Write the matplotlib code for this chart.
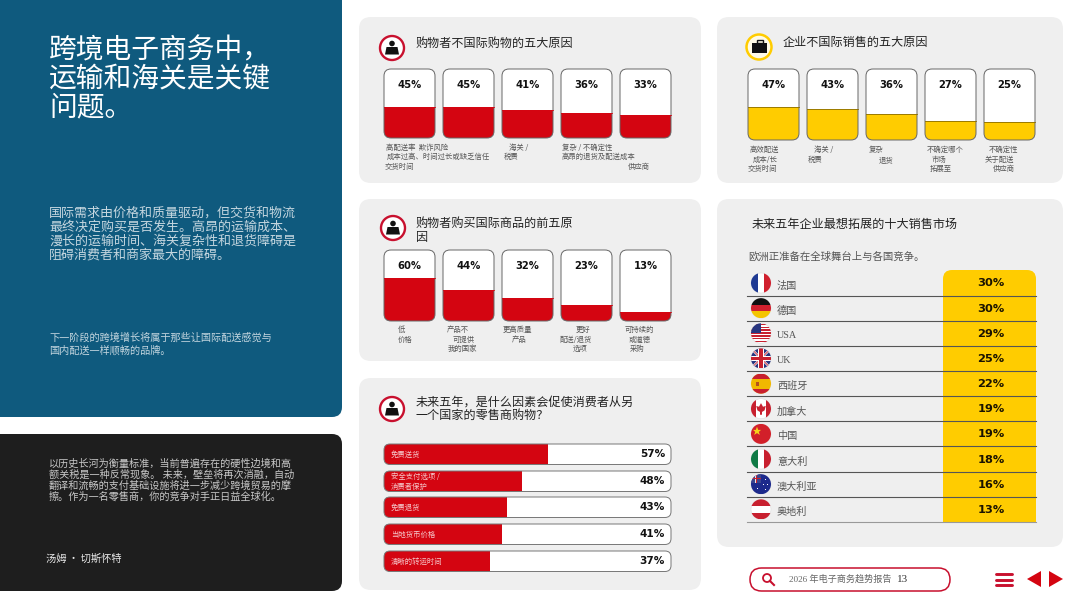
#!/usr/bin/env python3
# -*- coding: utf-8 -*-

import matplotlib
matplotlib.use("Agg")
import matplotlib.pyplot as plt
from matplotlib.patches import Circle, FancyBboxPatch, Polygon, Rectangle

CJK = ["Noto Sans CJK SC", "DejaVu Sans"]
MIXED = ["Liberation Serif", "Noto Sans CJK SC", "DejaVu Sans"]
plt.rcParams["font.family"] = CJK

RED = "#d40511"
DARK_RED = "#c8102e"
YELLOW = "#ffcc00"
BLUE = "#0f5a7e"
BLACK = "#1e1e1e"
GREY = "#efefef"
INK = "#222222"
SOFT = "#555555"

# ---- data ----
shopper_barriers = [45, 45, 41, 36, 33]
shopper_barrier_text = ["高配送率  欺诈风险", "成本过高、时间过长或缺乏信任", "交货时间",
                        "海关 /", "税费",
                        "复杂 / 不确定性", "高昂的退货及配送成本", "供应商"]
business_barriers = [47, 43, 36, 27, 25]
business_barrier_text = ["高效配送", "成本/长", "交货时间",
                         "海关 /", "税费",
                         "复杂", "退货",
                         "不确定哪个", "市场", "拓展至",
                         "不确定性", "关于配送", "供应商"]
buy_reasons = [60, 44, 32, 23, 13]
buy_reason_text = ["低", "价格",
                   "产品不", "可提供", "我的国家",
                   "更高质量", "产品",
                   "更好", "配送/退货", "选项",
                   "可持续的", "或道德", "采购"]
drivers = ["免费送货", "安全支付选项 /\n消费者保护", "免费退货", "当地货币价格", "清晰的转运时间"]
driver_values = [57, 48, 43, 41, 37]
markets = ["法国", "德国", "USA", "UK", "西班牙", "加拿大", "中国", "意大利", "澳大利亚", "奥地利"]
market_values = [30, 30, 29, 25, 22, 19, 19, 18, 16, 13]

# where each free line of small caption text sits (px)
shopper_text_xy = [(386, 147), (387, 156), (385, 166), (509, 147), (504, 156),
                   (562, 147), (562, 156), (628, 166)]
business_text_xy = [(750, 149), (753, 159), (748, 168), (814, 149), (808, 159),
                    (869, 149), (879, 159), (927, 149), (932, 159), (930, 168),
                    (989, 149), (985, 159), (993, 168)]
buy_text_xy = [(398, 329), (398, 339), (447, 329), (453, 339), (448, 348),
               (503, 329), (512, 339), (576, 329), (560, 339), (573, 348),
               (625, 329), (629, 339), (630, 348)]

W, H = 1080, 608
fig = plt.figure(figsize=(W / 100, H / 100), dpi=100, facecolor="white")

# page axes works in reference pixels, y going down
page = fig.add_axes([0, 0, 1, 1], zorder=0)
page.set_xlim(0, W)
page.set_ylim(H, 0)
page.axis("off")

# text goes on its own clear layer above the chart axes
top = fig.add_axes([0, 0, 1, 1], zorder=5)
top.set_xlim(0, W)
top.set_ylim(H, 0)
top.axis("off")


def sub_axes(x0, y0, x1, y1):
    ax = fig.add_axes([x0 / W, 1 - y1 / H, (x1 - x0) / W, (y1 - y0) / H], zorder=2)
    ax.axis("off")
    return ax


def rbox(x0, y0, x1, y1, r, ax=page, **kw):
    p = FancyBboxPatch((x0 + r, y0 + r), x1 - x0 - 2 * r, y1 - y0 - 2 * r,
                       boxstyle=f"round,pad={r},rounding_size={r}", mutation_aspect=1, **kw)
    ax.add_patch(p)
    return p


def label(x, y, s, size, color=INK, ha="left", family=CJK, weight="normal", **kw):
    top.text(x, y + 1, s, fontsize=size, color=color, ha=ha, va="center", family=family,
             fontweight=weight, **kw)


def person_icon(cx, cy):
    page.add_patch(Circle((cx, cy), 12, fc="white", ec=DARK_RED, lw=1.7))
    page.add_patch(Circle((cx, cy - 4.5), 2.8, fc="#111111", ec="none"))
    page.add_patch(Polygon([(cx - 7, cy + 6.5), (cx - 5.5, cy - 1), (cx + 5.5, cy - 1), (cx + 7, cy + 6.5)],
                           fc="#111111", ec="none"))


def column_cards(values, left, top_y, bottom_y, color):
    # one axes for the group: 0-100 fills the card height
    pitch, width = 59, 51
    x1 = left + 4 * pitch + width
    ax = sub_axes(left, top_y, x1, bottom_y)
    ax.set_xlim(-width / 2 / pitch, 4 + width / 2 / pitch)
    ax.set_ylim(0, 100)
    for i, v in enumerate(values):
        px = left + i * pitch
        back = rbox(px, top_y, px + width, bottom_y, 7, fc="white", ec="none")
        bar = ax.bar(i, v, width=width / pitch, color=color, linewidth=0)[0]
        bar.set_clip_path(back)
        rbox(px, top_y, px + width, bottom_y, 7, ax=top, fc="none", ec="#666666", lw=0.7)
        top.plot([px, px + width], [bottom_y - (bottom_y - top_y) * v / 100] * 2,
                 color="#8a6d00" if color == YELLOW else color, lw=0.6)
        top.text(px + width / 2, top_y + 16, f"{v}%", fontsize=7.2, color="#111111", ha="center",
                 va="center", family="DejaVu Sans", fontweight="bold")


def captions(lines, spots):
    for s, (x, y) in zip(lines, spots):
        label(x, y, s, 5.3, color=SOFT)


# ---- left panels ----
rbox(-20, -20, 342, 417, 10, fc=BLUE, ec="none")
rbox(-20, 434, 342, 591, 10, fc=BLACK, ec="none")

for y, s in zip([49, 78, 106], ["跨境电子商务中，", "运输和海关是关键", "问题。"]):
    label(49, y, s, 20, color="white")
for y, s in zip([212, 226, 240, 254], ["国际需求由价格和质量驱动，但交货和物流",
                                       "最终决定购买是否发生。高昂的运输成本、",
                                       "漫长的运输时间、海关复杂性和退货障碍是",
                                       "阻碍消费者和商家最大的障碍。"]):
    label(49, y, s, 9.4, color="#c4d6df")
for y, s in zip([337, 349], ["下一阶段的跨境增长将属于那些让国际配送感觉与", "国内配送一样顺畅的品牌。"]):
    label(49, y, s, 7.3, color="#c4d6df")
for y, s in zip([463, 474, 485, 496], ["以历史长河为衡量标准，当前普遍存在的硬性边境和高",
                                       "额关税是一种反常现象。 未来，壁垒将再次消融，自动",
                                       "翻译和流畅的支付基础设施将进一步减少跨境贸易的摩",
                                       "擦。作为一名零售商，你的竞争对手正日益全球化。"]):
    label(49, y, s, 7.3, color="#c8c8c8")
label(46, 558, "汤姆\u2009•\u2009切斯怀特", 7.4, color="#e8e8e8", weight="medium")

# ---- grey cards ----
rbox(359, 17, 701, 183, 12, fc=GREY, ec="none")
rbox(717, 17, 1063, 183, 12, fc=GREY, ec="none")
rbox(359, 199, 701, 361, 12, fc=GREY, ec="none")
rbox(359, 378, 701, 590, 12, fc=GREY, ec="none")
rbox(717, 199, 1063, 547, 12, fc=GREY, ec="none")

# shoppers, why not
person_icon(392, 48)
label(416, 42, "购物者不国际购物的五大原因", 8.7)
column_cards(shopper_barriers, 384, 69, 138, RED)
captions(shopper_barrier_text, shopper_text_xy)

# businesses, why not
page.add_patch(Circle((759, 47), 12.5, fc="#fffbe6", ec=YELLOW, lw=1.8))
page.add_patch(Rectangle((752, 43), 15, 10, fc="#111111", ec="none"))
page.add_patch(Rectangle((756.5, 40), 6, 3, fc="none", ec="#111111", lw=1))
page.add_patch(Rectangle((752, 47.5), 15, 0.8, fc="white", ec="none"))
label(783, 41, "企业不国际销售的五大原因", 8.7)
column_cards(business_barriers, 748, 69, 140, YELLOW)
captions(business_barrier_text, business_text_xy)

# shoppers, why buy
person_icon(393, 228)
label(416, 222, "购物者购买国际商品的前五原", 8.7)
label(416, 236, "因", 8.7)
column_cards(buy_reasons, 384, 250, 321, RED)
captions(buy_reason_text, buy_text_xy)

# what would make shoppers buy abroad
person_icon(392, 409)
label(416, 401, "未来五年，是什么因素会促使消费者从另", 8.7)
label(416, 414, "一个国家的零售商购物？", 8.7)

row_tops = [444, 471, 497, 524, 551]
row_h = 20.5
bar_ax = sub_axes(384, 444, 671, 571.5)
bar_ax.set_xlim(0, 100)
bar_ax.set_ylim(571.5, 444)
for name, v, y0 in zip(drivers, driver_values, row_tops):
    back = rbox(384, y0, 671, y0 + row_h, 6, fc="white", ec="none")
    bar = bar_ax.barh(y0 + row_h / 2, v, height=row_h, color=RED, linewidth=0)[0]
    bar.set_clip_path(back)
    rbox(384, y0, 671, y0 + row_h, 6, ax=top, fc="none", ec="#777777", lw=0.7)
    label(391, y0 + row_h / 2 - 0.5, name, 5.3, color="#f5c9cc", linespacing=1.3)
    top.text(665, y0 + row_h / 2, f"{v}%", fontsize=7.6, color="#111111", ha="right", va="center",
             family="DejaVu Sans", fontweight="bold")

# ---- top ten markets ----
label(752, 223, "未来五年企业最想拓展的十大销售市场", 8.7, weight="medium")
label(748, 256, "欧洲正准备在全球舞台上与各国竞争。", 7.5, color=SOFT)


def flag(code, cx, cy, r=10):
    clip = Circle((cx, cy), r, fc="white", ec="#dddddd", lw=0.4)
    page.add_patch(clip)
    x0, y0 = cx - r, cy - r
    d = 2 * r

    def box(fx, fy, fw, fh, color):
        p = Rectangle((x0 + fx * d, y0 + fy * d), fw * d, fh * d, fc=color, ec="none")
        page.add_patch(p)
        p.set_clip_path(clip)

    def shape(pts, color):
        p = Polygon([(x0 + a * d, y0 + b * d) for a, b in pts], fc=color, ec="none")
        page.add_patch(p)
        p.set_clip_path(clip)

    if code == "法国":
        box(0, 0, 1 / 3, 1, "#1f3a93")
        box(2 / 3, 0, 1 / 3, 1, "#d0202e")
    elif code == "德国":
        box(0, 0, 1, 1 / 3, "#111111")
        box(0, 1 / 3, 1, 1 / 3, "#d0202e")
        box(0, 2 / 3, 1, 1 / 3, "#f4c400")
    elif code == "USA":
        for k in range(0, 7):
            box(0, k / 7 + 0.02, 1, 1 / 14, "#c8202f")
        box(0, 0, 0.5, 0.5, "#27357f")
    elif code == "UK":
        box(0, 0, 1, 1, "#27357f")
        shape([(0, 0.08), (0.08, 0), (1, 0.92), (0.92, 1)], "white")
        shape([(1, 0.08), (0.92, 0), (0, 0.92), (0.08, 1)], "white")
        shape([(0, 0.03), (0.03, 0), (1, 0.97), (0.97, 1)], "#c8202f")
        shape([(1, 0.03), (0.97, 0), (0, 0.97), (0.03, 1)], "#c8202f")
        box(0.36, 0, 0.28, 1, "white")
        box(0, 0.36, 1, 0.28, "white")
        box(0.42, 0, 0.16, 1, "#c8202f")
        box(0, 0.42, 1, 0.16, "#c8202f")
    elif code == "西班牙":
        box(0, 0, 1, 1, "#f1b800")
        box(0, 0, 1, 0.25, "#c8202f")
        box(0, 0.75, 1, 0.25, "#c8202f")
        box(0.25, 0.4, 0.15, 0.2, "#b5501e")
    elif code == "加拿大":
        box(0, 0, 0.24, 1, "#c8202f")
        box(0.76, 0, 0.24, 1, "#c8202f")
        shape([(0.5, 0.22), (0.6, 0.4), (0.74, 0.36), (0.68, 0.58), (0.55, 0.66), (0.55, 0.8),
               (0.45, 0.8), (0.45, 0.66), (0.32, 0.58), (0.26, 0.36), (0.4, 0.4)], "#c8202f")
    elif code == "中国":
        box(0, 0, 1, 1, "#d2202a")
        shape([(0.3, 0.14), (0.36, 0.3), (0.5, 0.3), (0.39, 0.4), (0.44, 0.55),
               (0.3, 0.46), (0.16, 0.55), (0.21, 0.4), (0.1, 0.3), (0.24, 0.3)], "#f6d21a")
    elif code == "意大利":
        box(0, 0, 1 / 3, 1, "#0f7a45")
        box(2 / 3, 0, 1 / 3, 1, "#c8202f")
    elif code == "澳大利亚":
        box(0, 0, 1, 1, "#1d2a8c")
        box(0, 0, 0.52, 0.42, "#39448f")
        box(0.22, 0, 0.08, 0.42, "#e5e5e5")
        box(0, 0.17, 0.52, 0.08, "#e5e5e5")
        box(0.24, 0, 0.04, 0.42, "#c8202f")
        box(0, 0.19, 0.52, 0.04, "#c8202f")
        for a, b in [(0.3, 0.72), (0.72, 0.28), (0.82, 0.5), (0.62, 0.52), (0.72, 0.78)]:
            box(a - 0.025, b - 0.025, 0.05, 0.05, "white")
    elif code == "奥地利":
        box(0, 0, 1, 1 / 3, "#c8202f")
        box(0, 2 / 3, 1, 1 / 3, "#c8202f")


pitch = 25.15
rows_top = 270
rbox(943, rows_top, 1036, 540, 9, fc=YELLOW, ec="none")
# squared off below the last row with a grey patch
page.add_patch(Rectangle((940, 522), 100, 20, fc=GREY, ec="none"))
page.add_patch(Rectangle((943, 510), 93, 12, fc=YELLOW, ec="none"))

for i, (name, v) in enumerate(zip(markets, market_values)):
    cy = 283 + i * pitch
    flag(name, 761, cy)
    family = MIXED if name in ("USA", "UK") else CJK
    label(777, cy + 1.5, name, 7.3, color=SOFT, family=family)
    top.text(991, cy + 0.5, f"{v}%", fontsize=8.2, color="#1a1300", ha="center", va="center",
             family="DejaVu Sans", fontweight="bold")
    line_y = 295.5 + i * pitch
    top.plot([747, 1036], [line_y, line_y], color="#555555" if i < 9 else "#999999", lw=0.8)

# ---- footer ----
rbox(750, 568, 950, 591, 11.5, fc="white", ec=DARK_RED, lw=1.1)
top.add_patch(Circle((767, 578), 4, fc="none", ec=DARK_RED, lw=1.3))
top.plot([770, 774], [581, 585], color=DARK_RED, lw=1.5)
label(789, 578, "2026 年电子商务趋势报告", 6.6, color="#666666", family=MIXED)
label(897, 579, "13", 8, color="#333333", family=MIXED)
for y in [574, 579.5, 585]:
    top.plot([996, 1012], [y, y], color=DARK_RED, lw=2.1, solid_capstyle="round")
top.add_patch(Polygon([(1027, 579), (1041, 571), (1041, 587)], fc=RED, ec="none"))
top.add_patch(Polygon([(1063, 579), (1049, 571), (1049, 587)], fc=RED, ec="none"))

fig.savefig("out.png", dpi=100, facecolor="white")
